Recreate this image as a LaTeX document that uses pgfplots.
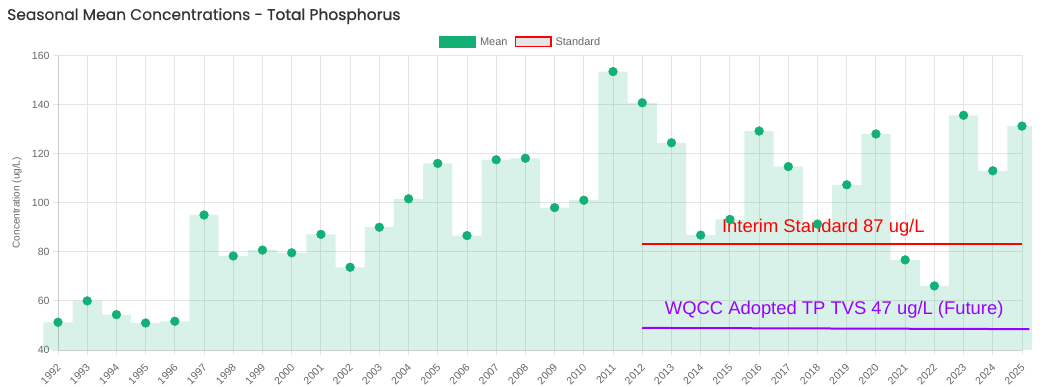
\documentclass[border=0pt]{standalone}
\usepackage{pgfplots}
\pgfplotsset{compat=1.18}
\usepackage{fontspec}
\setmainfont{Liberation Sans}
\newfontfamily\titlefont[FakeBold=0.4]{Poppins}
\newfontfamily\titleboldfont[FakeBold=1.3]{Poppins}
\definecolor{meangreen}{RGB}{18,176,116}
\definecolor{txtgray}{RGB}{102,102,102}
\definecolor{gridgray}{RGB}{229,229,229}
\definecolor{stdred}{RGB}{255,0,0}
\definecolor{tvspurple}{RGB}{153,0,255}
\definecolor{titlegray}{RGB}{51,51,51}
\begin{document}
\begin{tikzpicture}
\path[use as bounding box] (-58pt,-37pt) rectangle (985pt,350pt);
\begin{axis}[
  at={(0,0)}, anchor=south west,
  scale only axis, width=964pt, height=294.6pt,
  xmin=1992, xmax=2025, ymin=40, ymax=160,
  clip=false,
  axis lines=left, axis line style={-, draw=black!20, line width=0.8pt},
  xtick={1992,...,2025}, ytick={40,60,...,160},
  grid=major, grid style={draw=gridgray, line width=0.8pt},
  tick style={draw=gridgray, line width=0.8pt}, tick align=outside, major tick length=5pt,
  tick label style={font=\fontsize{10.5}{12}\selectfont, text=txtgray},
  x tick label style={anchor=east, xshift=3.5pt, yshift=-8.5pt, rotate=45},
  /pgf/number format/1000 sep={},
  /pgf/number format/assume math mode=true,
  ylabel={Concentration (ug/L)},
  every axis y label/.style={at={(axis description cs:-0.0425,0.5)}, rotate=90, anchor=center, font=\fontsize{10}{12}\selectfont, text=txtgray},
  legend style={at={(axis description cs:0.4798,1.0455)}, anchor=center, draw=none, fill=none, font=\fontsize{11}{13}\selectfont, text=txtgray, inner sep=0pt},
  legend columns=2,
  legend cell align=left,
  /tikz/every even column/.append style={column sep=5pt},
]
\addplot[forget plot, const plot mark mid, draw=none, fill=meangreen, fill opacity=0.16] coordinates {
(1991.5,40) (1991.5,51.3) (1992,51.3) (1993,60.0) (1994,54.4) (1995,51.0) (1996,51.7)
(1997,95.0) (1998,78.3) (1999,80.7) (2000,79.6) (2001,87.1) (2002,73.7) (2003,90.0)
(2004,101.6) (2005,116.0) (2006,86.6) (2007,117.5) (2008,118.1) (2009,98.0) (2010,101.0)
(2011,153.4) (2012,140.7) (2013,124.4) (2014,86.8) (2015,93.2) (2016,129.2) (2017,114.7)
(2018,91.3) (2019,107.3) (2020,128.0) (2021,76.7) (2022,66.1) (2023,135.6) (2024,113.0)
(2025,131.2) (2025.34,131.2) (2025.34,40)} -- cycle;
\addplot[forget plot, only marks, mark=*, mark size=4.4pt, mark options={fill=meangreen, draw=meangreen}] coordinates {
(1992,51.3) (1993,60.0) (1994,54.4) (1995,51.0) (1996,51.7)
(1997,95.0) (1998,78.3) (1999,80.7) (2000,79.6) (2001,87.1) (2002,73.7) (2003,90.0)
(2004,101.6) (2005,116.0) (2006,86.6) (2007,117.5) (2008,118.1) (2009,98.0) (2010,101.0)
(2011,153.4) (2012,140.7) (2013,124.4) (2014,86.8) (2015,93.2) (2016,129.2) (2017,114.7)
(2018,91.3) (2019,107.3) (2020,128.0) (2021,76.7) (2022,66.1) (2023,135.6) (2024,113.0)
(2025,131.2)};
\addplot[forget plot, stdred, line width=2pt] coordinates {(2012,83.1) (2025,83.1)};
\addplot[forget plot, tvspurple, line width=2pt] coordinates {(2012,49.0) (2025.25,48.5)};
\node[anchor=base, text=stdred, font=\fontsize{18.4}{20}\selectfont, inner sep=0pt] at (axis cs:2018.2,87.8) {Interim Standard 87 ug/L};
\node[anchor=base, text=tvspurple, font=\fontsize{18.4}{20}\selectfont, inner sep=0pt] at (axis cs:2018.57,54.3) {WQCC Adopted TP TVS 47 ug/L (Future)};
\addlegendimage{legend image code/.code={\fill[meangreen] (0pt,-5.5pt) rectangle (36pt,5.5pt); \path[draw=none,fill=none] (39pt,0pt) circle (0pt);}}
\addlegendentry{Mean}
\addlegendimage{legend image code/.code={\filldraw[fill=black!10, draw=red, line width=1.2pt] (0.6pt,-4.9pt) rectangle (36.4pt,4.9pt); \path[draw=none,fill=none] (39pt,0pt) circle (0pt);}}
\addlegendentry{Standard}
\end{axis}
\node[anchor=base west, inner sep=0pt, text=titlegray, font={\titlefont\fontsize{15.5}{18}\selectfont}] at (-51pt,330pt) {Seasonal Mean Concentrations - {\titleboldfont Total Phosphorus}};
\end{tikzpicture}
\end{document}
